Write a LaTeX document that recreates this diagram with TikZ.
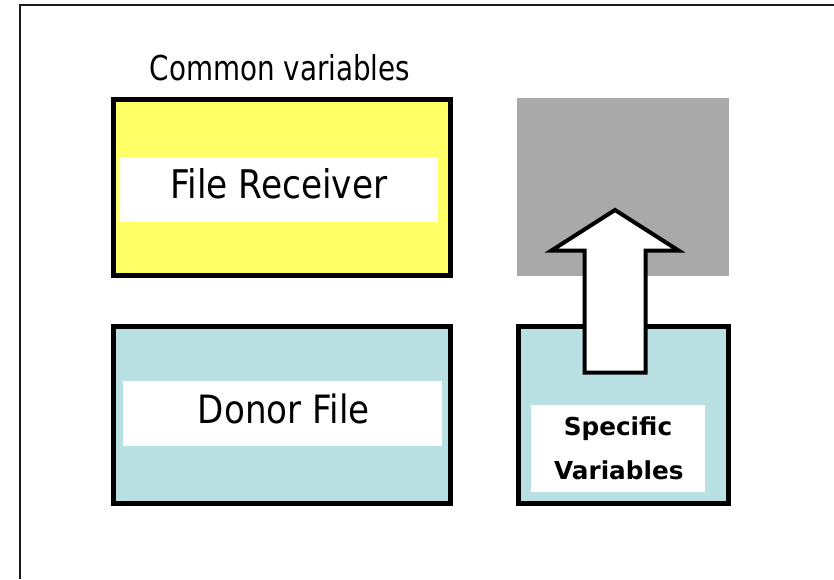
\documentclass[tikz,border=0pt]{standalone}
\usepackage{fontspec}
\setmainfont{DejaVu Sans}
\begin{document}
\begin{tikzpicture}[x=1pt,y=-1pt,
  box/.style={draw=black,line width=5pt,inner sep=0pt,outer sep=0pt},
  lbl/.style={fill=white,draw=none,inner sep=0pt,outer sep=0pt},
  txt/.style={inner sep=0pt,outer sep=0pt,anchor=base,text=black}]
\definecolor{recvyellow}{RGB}{255,255,102}
\definecolor{donorblue}{RGB}{185,224,227}
\definecolor{greybox}{RGB}{169,169,169}
\useasboundingbox (0,0) rectangle (834,579);
\fill[white] (0,0) rectangle (834,579);
% frame
\coordinate (fb) at (20,579);
\coordinate (fc) at (20,5);
\coordinate (fr) at (834,5);
\draw[line width=2pt,color=black!90] (fb) -- (fc) -- (fr);
% boxes
\node[box,fill=recvyellow,minimum width=337pt,minimum height=176pt] (recv) at (281.5,187) {};
\node[box,fill=donorblue,minimum width=337pt,minimum height=177pt] (donor) at (281.5,414.5) {};
\node[box,fill=donorblue,minimum width=210pt,minimum height=177pt] (spec) at (623,414.5) {};
\node[fill=greybox,draw=none,inner sep=0pt,minimum width=212pt,minimum height=178.5pt] (grey) at (623,186.75) {};
% white labels
\node[lbl,minimum width=319pt,minimum height=64.3pt] (recvlbl) at (278.5,189.5) {};
\node[lbl,minimum width=319pt,minimum height=64.7pt] (donorlbl) at (282.5,413.4) {};
\node[lbl,minimum width=174.5pt,minimum height=86.6pt] (speclbl) at (618.2,448.3) {};
% texts
\node[txt,font=\fontsize{34.3pt}{40pt}\selectfont] (common) at (280,80) {\scalebox{0.81}[1]{Common variables}};
\node[txt,font=\fontsize{39.5pt}{46pt}\selectfont] (recvtxt) at (278.8,198.5) {\scalebox{0.87}[1]{File Receiver}};
\node[txt,font=\fontsize{39pt}{46pt}\selectfont] (donortxt) at (283.7,423.3) {\scalebox{0.875}[1]{Donor File}};
\node[txt,font=\bfseries\fontsize{24.7pt}{30pt}\selectfont] (spec1) at (618,435) {Specific};
\node[txt,font=\bfseries\fontsize{24.7pt}{30pt}\selectfont] (spec2) at (618.8,479) {Variables};
% block arrow from specific box to grey box
\coordinate (a1) at (584.5,372.5);
\coordinate (a2) at (584.5,250.5);
\coordinate (a3) at (551.5,250.5);
\coordinate (a4) at (615,210);
\coordinate (a5) at (678.5,250.5);
\coordinate (a6) at (645.5,250.5);
\coordinate (a7) at (645.5,372.5);
\draw[fill=white,draw=black,line width=4pt,line join=miter] (a1) -- (a2) -- (a3) -- (a4) -- (a5) -- (a6) -- (a7) -- cycle;
\end{tikzpicture}
\end{document}
